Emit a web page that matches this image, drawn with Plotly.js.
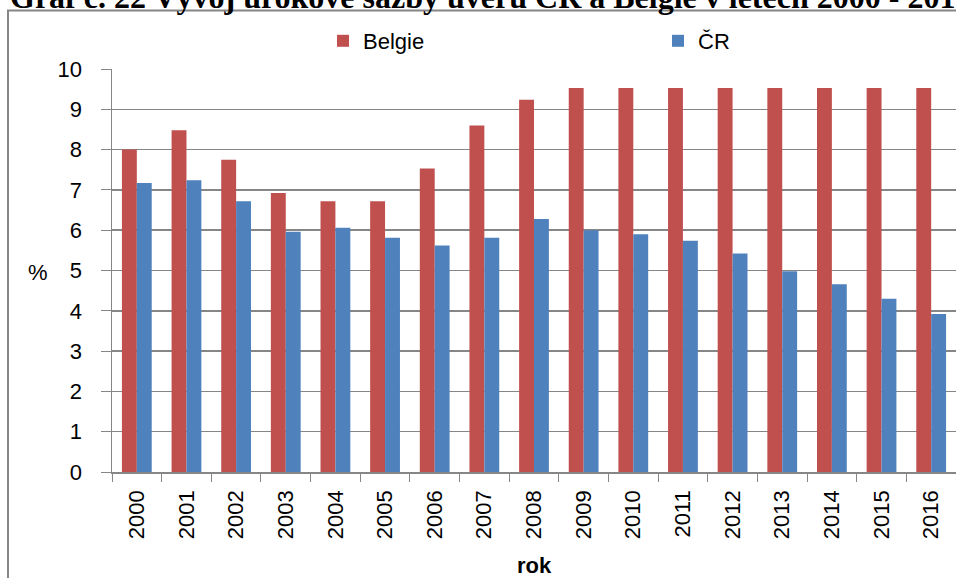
<!DOCTYPE html>
<html>
<head>
<meta charset="utf-8">
<script src="https://cdn.plot.ly/plotly-3.0.1.min.js"></script>
<style>html,body{margin:0;padding:0;background:#fff;}#chart{width:956px;height:578px;}</style>
</head>
<body>
<div id="chart"></div>
<script>
const years = ['2000','2001','2002','2003','2004','2005','2006','2007','2008','2009','2010','2011','2012','2013','2014','2015','2016'];
const belgie = [8.0, 8.48, 7.75, 6.92, 6.72, 6.72, 7.53, 8.60, 9.24, 9.53, 9.53, 9.53, 9.53, 9.53, 9.53, 9.53, 9.53];
const cr = [7.17, 7.24, 6.72, 5.96, 6.06, 5.81, 5.62, 5.81, 6.28, 6.0, 5.90, 5.74, 5.42, 4.98, 4.66, 4.30, 3.92];
const yTicks = [0,1,2,3,4,5,6,7,8,9,10];
const titleText = '<b>Graf č. 22 Vývoj úrokové sazby úvěrů ČR a Belgie v letech 2000 - 2016</b>';

const W = 956, H = 578;
const L = 112, R = 0, T = 69, B = 106;
const pw = W - L - R, ph = H - T - B;
const px = x => (x - L) / pw;
const py = y => (H - B - y) / ph;

const font = 'Liberation Sans, Arial, sans-serif';
const traces = [
  {type:'bar', name:'Belgie', x: years, y: belgie, marker:{color:'#C0504D'}, legend: 'legend'},
  {type:'bar', name:'ČR', x: years, y: cr, marker:{color:'#4F81BD'}, legend: 'legend2'}
];
const legendBase = {orientation: 'h', xanchor: 'left', yanchor: 'middle', borderwidth: 0,
                    font: {family: font, size: 22, color: '#000'}, bgcolor: 'rgba(0,0,0,0)'};
const layout = {
  width: W, height: H,
  margin: {l: L, r: R, t: T, b: B, pad: 0},
  paper_bgcolor: '#ffffff', plot_bgcolor: '#ffffff',
  barmode: 'group', bargap: 0.4, bargroupgap: 0,
  font: {family: font, size: 22, color: '#000'},
  showlegend: true,
  legend: Object.assign({}, legendBase, {x: px(323), y: py(41)}),
  legend2: Object.assign({}, legendBase, {x: px(658), y: py(41)}),
  xaxis: {type: 'category', tickangle: -90, ticks: 'outside', ticklen: 8, tickcolor: '#868686',
          tickson: 'boundaries', showline: true, linecolor: '#868686', linewidth: 1.5,
          showgrid: false, ticklabelstandoff: 8, tickfont: {family: font, size: 22},
          title: {text: '<b>rok</b>', font: {family: font, size: 22}, standoff: 25}},
  yaxis: {range: [0, 10], tickvals: yTicks, ticktext: yTicks.map(String), ticks: 'outside', ticklen: 10,
          tickcolor: '#868686', showline: true, linecolor: '#868686', linewidth: 1.5,
          showgrid: true, gridcolor: '#868686', gridwidth: 1.5, zeroline: false,
          ticklabelstandoff: 14, tickfont: {family: font, size: 22}},
  shapes: [
    {type: 'rect', xref: 'paper', yref: 'paper', x0: px(8), x1: px(965), y0: py(590), y1: py(10.5),
     line: {color: '#868686', width: 2}, fillcolor: 'rgba(0,0,0,0)', layer: 'below'}
  ],
  annotations: [
    {text: titleText, xref: 'paper', yref: 'paper', x: px(8), y: py(17), xanchor: 'left', yanchor: 'bottom',
     showarrow: false, font: {family: 'Liberation Serif, Times New Roman, serif', size: 32, color: '#000'}},
    {text: '%', xref: 'paper', yref: 'paper', x: px(38), y: py(272), xanchor: 'center', yanchor: 'middle',
     showarrow: false, font: {family: font, size: 22, color: '#000'}}
  ]
};
Plotly.newPlot('chart', traces, layout, {displayModeBar: false, staticPlot: true});
</script>
</body>
</html>
